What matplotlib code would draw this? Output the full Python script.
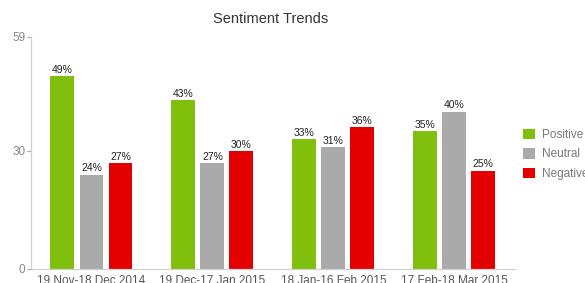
import matplotlib
matplotlib.use("Agg")
import matplotlib.pyplot as plt
import numpy as np

plt.rcParams['font.family'] = ['Liberation Sans', 'DejaVu Sans']

categories = ["19 Nov-18 Dec 2014", "19 Dec-17 Jan 2015", "18 Jan-16 Feb 2015", "17 Feb-18 Mar 2015"]
series_names = ["Positive", "Neutral", "Negative"]
positive = [49, 43, 33, 35]
neutral = [24, 27, 31, 40]
negative = [27, 30, 36, 25]
colors = ["#80BF0B", "#AAAAAA", "#E50000"]
yticks = [0, 30, 59]

fig = plt.figure(figsize=(5.85, 2.83), dpi=100)
ax = fig.add_axes([0.053, 0.0495, 0.827, 0.82])

x = np.arange(len(categories))
w = 0.198
off = 0.24
for i, (vals, name, c) in enumerate(zip([positive, neutral, negative], series_names, colors)):
    pos = x + (i - 1) * off
    bars = ax.bar(pos, vals, width=w, color=c, label=name)
    for p, v in zip(pos, vals):
        ax.text(p, v + 0.3, f"{v}%", ha='center', va='bottom', fontsize=7.5, color='#222222')

ax.set_xlim(-0.5, 3.5)
ax.set_ylim(0, 59)
ax.set_yticks(yticks)
ax.set_xticks(x)
ax.set_xticklabels(categories)
ax.tick_params(axis='x', length=0, labelsize=8.5, colors='#555555', pad=4.5)
ax.tick_params(axis='y', length=3, labelsize=8.5, colors='#aaaaaa', labelcolor='#888888', pad=1, width=0.8)
for s in ['top', 'right']:
    ax.spines[s].set_visible(False)
for s in ['left', 'bottom']:
    ax.spines[s].set_color('#d0d0d0')
    ax.spines[s].set_linewidth(0.9)

fig.text(0.462, 0.932, "Sentiment Trends", ha='center', va='center', fontsize=10.5, color='#333333')

leg = ax.legend(loc='upper left', bbox_to_anchor=(1.0, 0.64), frameon=False, fontsize=8.5,
                handlelength=1.0, handleheight=1.0, handletextpad=0.6, labelspacing=0.6,
                borderaxespad=0.3)
for t in leg.get_texts():
    t.set_color('#777777')

fig.savefig("out.png", dpi=100)
